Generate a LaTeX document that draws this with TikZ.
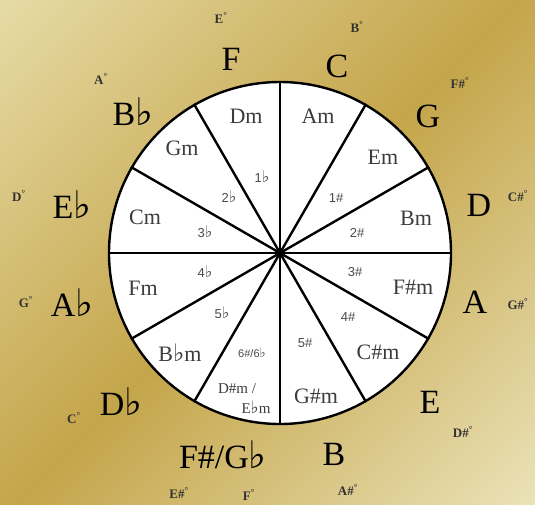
\documentclass[tikz,border=0pt]{standalone}
\usepackage{fontspec}
\setmainfont{Liberation Serif}
\newfontfamily\symfont{DejaVu Sans}
\newfontfamily\numfont{Liberation Sans}
\newcommand{\myflat}{{\symfont\fontsize{38}{38}\selectfont ♭}}
\newcommand{\sigflat}{{\symfont\fontsize{16}{16}\selectfont ♭}}
\definecolor{goldL}{HTML}{E6DAA4}
\definecolor{goldD}{HTML}{C4A54A}
\definecolor{goldLL}{HTML}{EAE1B6}
\definecolor{minorgray}{HTML}{3C3C3C}
\definecolor{siggray}{HTML}{4A4A4A}
\pgfdeclarehorizontalshading{goldsh}{100bp}{color(0bp)=(goldL); color(15bp)=(goldL); color(50bp)=(goldD); color(85bp)=(goldLL); color(100bp)=(goldLL)}
\begin{document}
\begin{tikzpicture}[x=1pt,y=-1pt,
  major/.style={font=\fontsize{34}{34}\selectfont, text=black, inner sep=0pt},
  minor/.style={font=\fontsize{22}{22}\selectfont, text=minorgray, inner sep=0pt},
  minorsmall/.style={font=\fontsize{15}{15}\selectfont, text=minorgray, inner sep=0pt},
  sig/.style={font=\numfont\fontsize{13}{13}\selectfont, text=siggray, inner sep=0pt},
  sigsmall/.style={font=\numfont\fontsize{11}{11}\selectfont, text=siggray, inner sep=0pt},
  dim/.style={font=\bfseries\fontsize{13}{13}\selectfont, text=black!80, inner sep=0pt},
  spoke/.style={line width=2.4pt, draw=black}]
\useasboundingbox (0,0) rectangle (535,504);
\shade[shading=goldsh, shading angle=-45] (0,0) rectangle (535,504);

% wheel
\node[circle, draw=black, line width=2.4pt, fill=white, minimum size=342pt, inner sep=0pt] (wheel) at (280,253) {};
\node[circle, fill=black, minimum size=8pt, inner sep=0pt] (hub) at (wheel.center) {};
\foreach \a in {0,30,...,330} \draw[spoke] (hub.center) -- (wheel.\a);

% minor keys
\node[minor] (dm)  at (246,116) {Dm};
\node[minor] (am)  at (318,116) {Am};
\node[minor] (em)  at (383,157) {Em};
\node[minor] (bm)  at (416,218) {Bm};
\node[minor] (fsm) at (413,287) {F\#m};
\node[minor] (csm) at (378,352) {C\#m};
\node[minor] (gsm) at (316,396) {G\#m};
\node[minorsmall] (dsm) at (237,389) {D\#m /};
\node[minorsmall] (ebm) at (256,407) {E{\symfont\fontsize{17}{17}\selectfont ♭}m};
\node[minor] (bbm) at (180,353) {B{\symfont\fontsize{24}{24}\selectfont ♭}m};
\node[minor] (fm)  at (143,288) {Fm};
\node[minor] (cm)  at (145,217) {Cm};
\node[minor] (gm)  at (182,148) {Gm};

% key signatures
\node[sig] (s1b) at (262,177) {1\sigflat};
\node[sig] (s2b) at (229,197) {2\sigflat};
\node[sig] (s3b) at (205,232) {3\sigflat};
\node[sig] (s4b) at (205,272) {4\sigflat};
\node[sig] (s5b) at (222,313) {5\sigflat};
\node[sigsmall] (s6) at (252,353) {6\#/6{\symfont\fontsize{13}{13}\selectfont ♭}};
\node[sig] (s5s) at (305,343) {5\#};
\node[sig] (s4s) at (348,317) {4\#};
\node[sig] (s3s) at (355,272) {3\#};
\node[sig] (s2s) at (357,233) {2\#};
\node[sig] (s1s) at (336,198) {1\#};

% major keys
\node[major] (kF)  at (231,59)  {F};
\node[major] (kC)  at (337,66)  {C};
\node[major] (kG)  at (428,116) {G};
\node[major] (kD)  at (479,205) {D};
\node[major] (kA)  at (475,302) {A};
\node[major] (kE)  at (430,402) {E};
\node[major] (kB)  at (334,454) {B};
\node[major] (kFs) at (223,455) {F\#/G\myflat};
\node[major] (kDb) at (121,402) {D\myflat};
\node[major] (kAb) at (72,303)  {A\myflat};
\node[major] (kEb) at (72,205)  {E\myflat};
\node[major] (kBb) at (133,112) {B\myflat};

% diminished chords
\node[dim] (dE)  at (221,18)  {E\textsuperscript{°}};
\node[dim] (dB)  at (357,27)  {B\textsuperscript{°}};
\node[dim] (dFs) at (460,83)  {F\#\textsuperscript{°}};
\node[dim] (dCs) at (518,196) {C\#\textsuperscript{°}};
\node[dim] (dGs) at (518,304) {G\#\textsuperscript{°}};
\node[dim] (dDs) at (463,432) {D\#\textsuperscript{°}};
\node[dim] (dAs) at (348,490) {A\#\textsuperscript{°}};
\node[dim] (dF)  at (249,495) {F\textsuperscript{°}};
\node[dim] (dEs) at (179,493) {E\#\textsuperscript{°}};
\node[dim] (dC)  at (74,418)  {C\textsuperscript{°}};
\node[dim] (dG)  at (26,302)  {G\textsuperscript{°}};
\node[dim] (dD)  at (19,196)  {D\textsuperscript{°}};
\node[dim] (dA)  at (101,79)  {A\textsuperscript{°}};
\end{tikzpicture}
\end{document}
